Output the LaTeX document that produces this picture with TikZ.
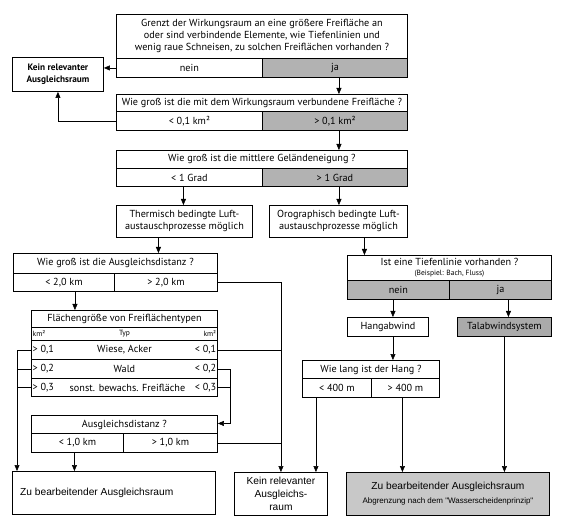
\documentclass[tikz,border=0pt]{standalone}
\usepackage{fontspec}
\setmainfont{PT Sans}
\newfontfamily\arialf{Liberation Sans}
\usetikzlibrary{arrows.meta}
\definecolor{cellgray}{RGB}{178,178,178}
\definecolor{talgray}{RGB}{170,170,170}
\definecolor{boxgray}{RGB}{200,200,200}
\begin{document}
\begin{tikzpicture}[x=1pt,y=-1pt,
  cell/.style={draw, line width=0.9pt, inner sep=0pt, anchor=north west, align=center, font=\fontsize{10.2}{12}\selectfont},
  grayc/.style={cell, fill=cellgray},
  conn/.style={line width=0.5pt},
  arr/.style={conn, -{Triangle[length=6pt,width=5pt]}},
  small/.style={inner sep=1.5pt, font=\fontsize{7.5}{8}\selectfont},
  rowlab/.style={inner sep=1.5pt, font=\fontsize{10.2}{12}\selectfont}
]
\useasboundingbox (0,0) rectangle (565,529);

% Question 1
\node[cell, minimum width=291pt, minimum height=44pt] (q1) at (116,14) {Grenzt der Wirkungsraum an eine größere Freifläche an\\oder sind verbindende Elemente, wie Tiefenlinien und\\wenig raue Schneisen, zu solchen Freiflächen vorhanden ?};
\node[cell, minimum width=146pt, minimum height=19pt] (q1n) at (116,58) {nein};
\node[grayc, minimum width=145pt, minimum height=19pt] (q1j) at (262,58) {ja};

\node[cell, minimum width=91pt, minimum height=34pt, font=\bfseries\fontsize{9.3}{12}\selectfont] (kein1) at (12,57) {Kein relevanter\\Ausgleichsraum};

% Question 2
\node[cell, minimum width=291pt, minimum height=17pt] (q2) at (116,94) {Wie groß ist die mit dem Wirkungsraum verbundene Freifläche ?};
\node[cell, minimum width=146pt, minimum height=19pt] (q2a) at (116,111) {< 0,1 km²};
\node[grayc, minimum width=145pt, minimum height=19pt] (q2b) at (262,111) {> 0,1 km²};

% Question 3
\node[cell, minimum width=291pt, minimum height=18pt] (q3) at (116,150) {Wie groß ist die mittlere Geländeneigung ?};
\node[cell, minimum width=146pt, minimum height=18pt] (q3a) at (116,168) {< 1 Grad};
\node[grayc, minimum width=145pt, minimum height=18pt] (q3b) at (262,168) {> 1 Grad};

\node[cell, minimum width=136pt, minimum height=32pt] (therm) at (116,205) {Thermisch bedingte Luft-\\austauschprozesse möglich};
\node[cell, minimum width=138pt, minimum height=32pt] (oro) at (269,205) {Orographisch bedingte Luft-\\austauschprozesse möglich};

% Question 4 (left)
\node[cell, minimum width=204pt, minimum height=20pt] (q4) at (13,253) {Wie groß ist die Ausgleichsdistanz ?};
\node[cell, minimum width=101pt, minimum height=18pt] (q4a) at (13,273) {< 2,0 km};
\node[cell, minimum width=103pt, minimum height=18pt] (q4b) at (114,273) {> 2,0 km};

% Table
\node[cell, minimum width=186pt, minimum height=17pt] (ft) at (31,310) {Flächengröße von Freiflächentypen};
\node[cell, minimum width=186pt, minimum height=13pt, font=\fontsize{7.5}{8}\selectfont] (fh) at (31,327) {Typ};
\node[small, anchor=west] (fhl) at (fh.west) {km²};
\node[small, anchor=east] (fhr) at (fh.east) {km²};
\node[cell, minimum width=186pt, minimum height=19pt] (r1) at (31,340) {Wiese, Acker};
\node[cell, minimum width=186pt, minimum height=19pt] (r2) at (31,359) {Wald};
\node[cell, minimum width=186pt, minimum height=18pt] (r3) at (31,378) {\hspace*{6pt}sonst. bewachs. Freifläche};
\node[rowlab, anchor=west] (r1l) at (r1.west) {> 0,1};
\node[rowlab, anchor=west] (r2l) at (r2.west) {> 0,2};
\node[rowlab, anchor=west] (r3l) at (r3.west) {> 0,3};
\node[rowlab, anchor=east] (r1r) at (r1.east) {< 0,1};
\node[rowlab, anchor=east] (r2r) at (r2.east) {< 0,2};
\node[rowlab, anchor=east] (r3r) at (r3.east) {< 0,3};

% Question 5
\node[cell, minimum width=186pt, minimum height=18pt] (q5) at (31,415) {Ausgleichsdistanz ?};
\node[cell, minimum width=92pt, minimum height=19pt] (q5a) at (31,433) {< 1,0 km};
\node[cell, minimum width=94pt, minimum height=19pt] (q5b) at (123,433) {> 1,0 km};

% Bottom left boxes
\node[cell, minimum width=203pt, minimum height=43pt] (zu1) at (12,471) {};
\node[anchor=west, inner sep=0pt, font=\arialf\fontsize{10.2}{12}\selectfont] (zu1t) at ([xshift=8pt]zu1.west) {Zu bearbeitender Ausgleichsraum};
\node[cell, minimum width=93pt, minimum height=43pt, font=\arialf\fontsize{10.2}{12.8}\selectfont] (kein2) at (234,472) {Kein relevanter\\Ausgleichs-\\raum};

% Right branch
\node[cell, minimum width=204pt, minimum height=25pt] (q6) at (347,255) {Ist eine Tiefenlinie vorhanden ?\\[-2pt]{\fontsize{7.5}{8}\selectfont (Beispiel: Bach, Fluss)}};
\node[grayc, minimum width=102pt, minimum height=19pt] (q6a) at (347,280) {nein};
\node[grayc, minimum width=102pt, minimum height=19pt] (q6b) at (449,280) {ja};

\node[cell, minimum width=81pt, minimum height=19pt] (hang) at (347,317) {Hangabwind};
\node[cell, fill=talgray, minimum width=94pt, minimum height=19pt] (tal) at (457,317) {Talabwindsystem};

\node[cell, minimum width=137pt, minimum height=18pt] (q7) at (302,360) {Wie lang ist der Hang ?};
\node[cell, minimum width=69pt, minimum height=19pt] (q7a) at (302,378) {< 400 m};
\node[cell, minimum width=68pt, minimum height=19pt] (q7b) at (371,378) {> 400 m};

\node[cell, fill=boxgray, minimum width=203pt, minimum height=43pt, font=\arialf\fontsize{10.2}{12}\selectfont] (zu2) at (346,472) {Zu bearbeitender Ausgleichsraum\\[2pt]{\fontsize{8}{9}\selectfont Abgrenzung nach dem "Wasserscheidenprinzip"}};

% Connectors
\draw[arr] (q1n.west) -- (q1n.west -| kein1.east);
\draw[arr] (q2a.west) -| (kein1.south);
\draw[arr] ([xshift=4pt]q1j.south) -- ([xshift=4pt]q1j.south |- q2.north);
\draw[arr] ([xshift=4pt]q2b.south) -- ([xshift=4pt]q2b.south |- q3.north);
\draw[arr] ([xshift=-6pt]q3a.south) -- ([xshift=-6pt]q3a.south |- therm.north);
\draw[arr] ([xshift=4pt]q3b.south) -- ([xshift=4pt]q3b.south |- oro.north);
\draw[arr] ([xshift=-26pt]therm.south) -- ([xshift=-26pt]therm.south |- q4.north);
\draw[arr] ([xshift=26pt]oro.south) -- ([xshift=26pt]oro.south |- q6.north);
\draw[arr] ([xshift=11pt]q4a.south) -- ([xshift=11pt]q4a.south |- ft.north);
\draw[arr] (q4b.east) -| (kein2.north);
\draw[conn] (r1r.east) -- (r1r.east -| kein2.north);
\draw[conn] (q5b.east) -- (q5b.east -| kein2.north);
\draw[arr] (r2r.east) -- ++(12pt,0) |- ([yshift=1pt]q5.east);
\draw[conn] (r3r.east) -- ++(12pt,0);
\draw[arr] (r1l.west) -- ++(-14pt,0) coordinate (lt) -- (lt |- zu1.north);
\draw[conn] (r2l.west) -- ++(-14pt,0);
\draw[conn] (r3l.west) -- ++(-14pt,0);
\draw[arr] ([xshift=-3pt]q5a.south) -- ([xshift=-3pt]q5a.south |- zu1.north);
\draw[arr] ([xshift=5pt]hang.north |- q6a.south) -- ([xshift=5pt]hang.north);
\draw[arr] ([xshift=4pt]tal.north |- q6b.south) -- ([xshift=4pt]tal.north);
\draw[arr] ([xshift=5pt]hang.south) -- ([xshift=5pt]hang.south |- q7.north);
\draw[arr] ([xshift=-21pt]q7a.south) -- ([xshift=-21pt]q7a.south |- kein2.north);
\draw[arr] ([xshift=-3pt]q7b.south) -- ([xshift=-3pt]q7b.south |- zu2.north);
\draw[arr] (tal.south) -- (tal.south |- zu2.north);
\end{tikzpicture}
\end{document}
